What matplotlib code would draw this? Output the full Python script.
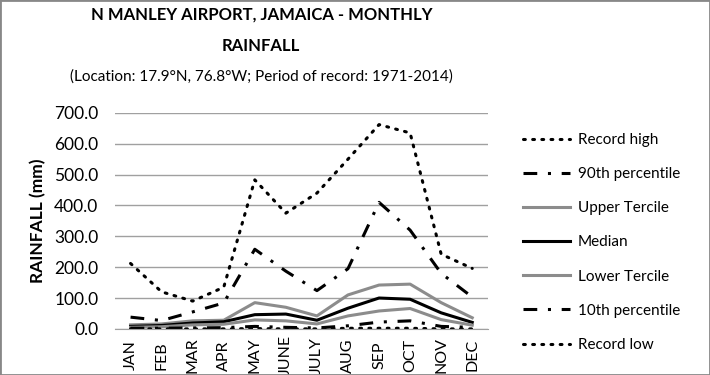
import matplotlib
matplotlib.use("Agg")
import matplotlib.pyplot as plt
from matplotlib.patches import Rectangle

months = ["JAN", "FEB", "MAR", "APR", "MAY", "JUNE", "JULY", "AUG", "SEP", "OCT", "NOV", "DEC"]
record_high = [212, 120, 90, 135, 483, 375, 440, 550, 662, 635, 242, 196]
pct90 = [38, 27, 55, 84, 258, 187, 124, 195, 410, 320, 180, 103]
upper_tercile = [13, 16, 26, 28, 85, 70, 42, 110, 142, 145, 85, 36]
median = [8, 11, 19, 23, 46, 48, 28, 67, 100, 96, 52, 21]
lower_tercile = [5, 7, 13, 15, 29, 26, 16, 42, 58, 66, 30, 12]
pct10 = [2, 2, 3, 4, 8, 5, 3, 10, 22, 26, 8, 5]
record_low = [0, 0, 0, 0, 1, 0, 0, 2, 2, 2, 0, 0]

plt.rcParams['font.family'] = ['Lato', 'DejaVu Sans']

fig = plt.figure(figsize=(7.1, 3.75), dpi=100)
ax = fig.add_axes([0.162, 0.123, 0.525, 0.576])

x = list(range(len(months)))
grey = '#8c8c8c'
dd = (4.5, 3.5, 1, 3.5)
dots = (0, (0.6, 2.4))
lw = 2.2
ax.plot(x, record_high, color='black', lw=lw, linestyle=dots, dash_capstyle='round', label='Record high')
ax.plot(x, pct90, color='black', lw=lw, linestyle=(0, dd), label='90th percentile')
ax.plot(x, upper_tercile, color=grey, lw=lw, label='Upper Tercile')
ax.plot(x, median, color='black', lw=lw, label='Median')
ax.plot(x, lower_tercile, color=grey, lw=lw, label='Lower Tercile')
ax.plot(x, pct10, color='black', lw=lw, linestyle=(0, dd), label='10th percentile')
ax.plot(x, record_low, color='black', lw=lw, linestyle=dots, dash_capstyle='round', label='Record low')

ax.set_xlim(-0.5, len(months) - 0.5)
ax.set_ylim(0, 700)
ax.set_yticks(range(0, 701, 100))
ax.set_yticklabels([f"{v:.1f}" for v in range(0, 701, 100)], fontsize=12.5)
ax.set_xticks(x)
ax.set_xticklabels(months, rotation=90, fontsize=11.5, va='center')
ax.yaxis.grid(True, color='#a0a0a0', lw=1)
ax.set_axisbelow(True)
for s in ['top', 'right', 'left']:
    ax.spines[s].set_visible(False)
ax.spines['bottom'].set_color('#a0a0a0')
ax.tick_params(axis='y', length=0, pad=12, colors='black')
ax.tick_params(axis='x', length=0, pad=19, colors='black')
ax.set_ylabel('RAINFALL (mm)', fontsize=12.5, fontweight='bold', labelpad=6)

cx = 0.368
fig.text(cx, 0.962, 'N MANLEY AIRPORT, JAMAICA - MONTHLY', ha='center', va='center', fontsize=12, fontweight='bold')
fig.text(cx, 0.877, 'RAINFALL', ha='center', va='center', fontsize=12, fontweight='bold')
fig.text(cx, 0.797, '(Location: 17.9°N, 76.8°W; Period of record: 1971-2014)', ha='center', va='center', fontsize=11)

fig.legend(loc='upper left', bbox_to_anchor=(0.728, 0.662), frameon=False, fontsize=11,
           handlelength=3.1, handletextpad=0.5, labelspacing=1.32, borderaxespad=0)

fig.patches.append(Rectangle((0, 0), 1, 1, transform=fig.transFigure, fill=False, edgecolor='#888888', lw=2))

fig.savefig('out.png', dpi=100)
